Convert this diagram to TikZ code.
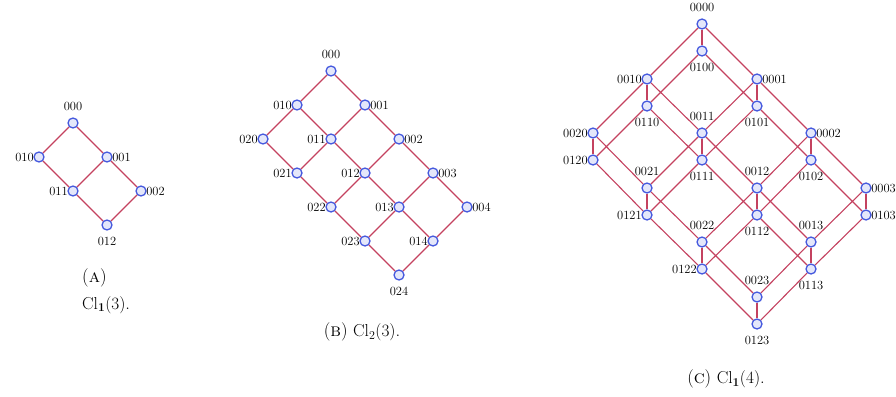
\documentclass[tikz,border=0pt]{standalone}
\usepackage{amsmath}
\definecolor{vtxline}{RGB}{70,90,222}
\definecolor{vtxfill}{RGB}{228,231,250}
\definecolor{edgered}{RGB}{196,66,96}
\tikzset{
	vtx/.style={circle, draw=vtxline, fill=vtxfill, line width=1.3pt, minimum size=10pt, inner sep=0pt},
	tag/.style={font=\fontsize{12.5}{14}\selectfont, inner sep=1pt},
	side/.style={tag, label distance=-1.5pt},
	far/.style={tag, label distance=5.5pt},
	link/.style={draw=edgered, line width=1.1pt},
	capt/.style={font=\fontsize{18.5}{22}\selectfont, inner sep=0pt}
}
\begin{document}
\begin{tikzpicture}[x=1pt, y=1pt]
	\useasboundingbox (0,0) rectangle (896,-396);

	% (a) Cl_1(3)
	\node[vtx, label={[far]above:000}] (a000) at (73,-123) {};
	\node[vtx, label={[side]left:010}] (a010) at (39,-157) {};
	\node[vtx, label={[side]right:001}] (a001) at (107,-157) {};
	\node[vtx, label={[side]left:011}] (a011) at (73,-191) {};
	\node[vtx, label={[side]right:002}] (a002) at (141,-191) {};
	\node[vtx, label={[far]below:012}] (a012) at (107,-225) {};
	\foreach \p/\q in {000/010, 000/001, 010/011, 001/011, 001/002, 011/012, 002/012}
		\draw[link] (a\p) -- (a\q);
	\node[capt, anchor=west] (acapt) at (82,-278) {(\textsc{a})};
	\node[capt, anchor=west] (aname) at (82,-305) {$\mathrm{Cl}_{\mathbf{1}}(3)$.};

	% (b) Cl_2(3)
	\node[vtx, label={[far]above:000}] (b000) at (331,-71) {};
	\node[vtx, label={[side]left:010}] (b010) at (297,-105) {};
	\node[vtx, label={[side]right:001}] (b001) at (365,-105) {};
	\node[vtx, label={[side]left:020}] (b020) at (263,-139) {};
	\node[vtx, label={[side]left:011}] (b011) at (331,-139) {};
	\node[vtx, label={[side]right:002}] (b002) at (399,-139) {};
	\node[vtx, label={[side]left:021}] (b021) at (297,-173) {};
	\node[vtx, label={[side]left:012}] (b012) at (365,-173) {};
	\node[vtx, label={[side]right:003}] (b003) at (433,-173) {};
	\node[vtx, label={[side]left:022}] (b022) at (331,-207) {};
	\node[vtx, label={[side]left:013}] (b013) at (399,-207) {};
	\node[vtx, label={[side]right:004}] (b004) at (467,-207) {};
	\node[vtx, label={[side]left:023}] (b023) at (365,-241) {};
	\node[vtx, label={[side]left:014}] (b014) at (433,-241) {};
	\node[vtx, label={[far]below:024}] (b024) at (399,-275) {};
	\foreach \a in {0,1,2} {
		\foreach \b/\n in {0/1,1/2,2/3,3/4} {
			\draw[link] (b0\a\b) -- (b0\a\n);
		}
	}
	\foreach \a/\n in {0/1,1/2} {
		\foreach \b in {0,1,2,3,4} {
			\draw[link] (b0\a\b) -- (b0\n\b);
		}
	}
	\node[capt] (bcapt) at (362,-332) {(\textsc{b}) $\mathrm{Cl}_{2}(3)$.};

	% (c) Cl_1(4)
	\node[vtx, label={[far]above:0000}] (c0000) at (702,-24) {};
	\node[vtx, label={[far]below:0100}] (c0100) at (702,-51) {};
	\node[vtx, label={[side]left:0010}] (c0010) at (647,-79) {};
	\node[vtx, label={[side]right:0001}] (c0001) at (757,-79) {};
	\node[vtx, label={[far]below:0110}] (c0110) at (647,-106) {};
	\node[vtx, label={[far]below:0101}] (c0101) at (757,-106) {};
	\node[vtx, label={[side]left:0020}] (c0020) at (593,-133) {};
	\node[vtx, label={[far]above:0011}] (c0011) at (702,-133) {};
	\node[vtx, label={[side]right:0002}] (c0002) at (811,-133) {};
	\node[vtx, label={[side]left:0120}] (c0120) at (593,-160) {};
	\node[vtx, label={[far]below:0111}] (c0111) at (702,-160) {};
	\node[vtx, label={[far]below:0102}] (c0102) at (811,-160) {};
	\node[vtx, label={[far]above:0021}] (c0021) at (647,-188) {};
	\node[vtx, label={[far]above:0012}] (c0012) at (757,-188) {};
	\node[vtx, label={[side]right:0003}] (c0003) at (866,-188) {};
	\node[vtx, label={[side]left:0121}] (c0121) at (647,-215) {};
	\node[vtx, label={[far]below:0112}] (c0112) at (757,-215) {};
	\node[vtx, label={[side]right:0103}] (c0103) at (866,-215) {};
	\node[vtx, label={[far]above:0022}] (c0022) at (702,-242) {};
	\node[vtx, label={[far]above:0013}] (c0013) at (811,-242) {};
	\node[vtx, label={[side]left:0122}] (c0122) at (702,-269) {};
	\node[vtx, label={[far]below:0113}] (c0113) at (811,-269) {};
	\node[vtx, label={[far]above:0023}] (c0023) at (757,-297) {};
	\node[vtx, label={[far]below:0123}] (c0123) at (757,-324) {};
	\foreach \a in {0,1} {
		\foreach \b in {0,1,2} {
			\foreach \c/\n in {0/1,1/2,2/3} {
				\draw[link] (c0\a\b\c) -- (c0\a\b\n);
			}
		}
		\foreach \b/\n in {0/1,1/2} {
			\foreach \c in {0,1,2,3} {
				\draw[link] (c0\a\b\c) -- (c0\a\n\c);
			}
		}
	}
	\foreach \b in {0,1,2} {
		\foreach \c in {0,1,2,3} {
			\draw[link] (c00\b\c) -- (c01\b\c);
		}
	}
	\node[capt] (ccapt) at (726,-379) {(\textsc{c}) $\mathrm{Cl}_{\mathbf{1}}(4)$.};
\end{tikzpicture}
\end{document}
